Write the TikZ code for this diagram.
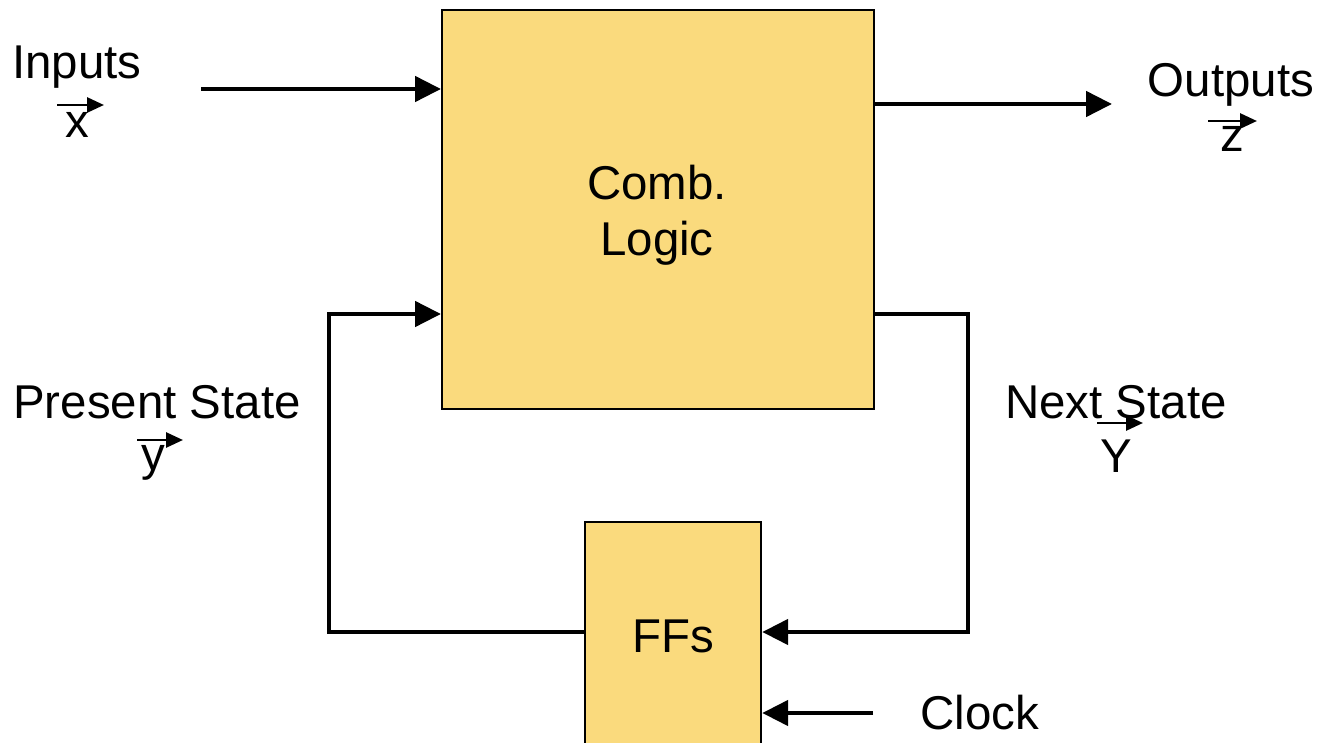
\documentclass[tikz,border=0pt]{standalone}
\usepackage{fontspec}
\setmainfont{Liberation Sans}
\usetikzlibrary{arrows.meta,calc}
\definecolor{LogicYellow}{RGB}{250,218,125}
\tikzset{
  block/.style={draw=black,fill=LogicYellow,line width=1.4pt,inner sep=0pt},
  lbl/.style={inner sep=0pt,font=\fontsize{27}{31.8}\selectfont},
  wire/.style={line width=2.7pt,-{Triangle[length=0.52cm,width=0.5cm]}},
  vec/.style={line width=1.6pt,-{Triangle[length=0.34cm,width=0.3cm]}}
}

\begin{document}
\begin{tikzpicture}[x=0.02cm,y=-0.02cm]
  \useasboundingbox (0,0) rectangle (1322,743);
  \clip (0,0) rectangle (1322,743);
  \node[block,anchor=north west,minimum width=8.64cm,minimum height=7.98cm] (comb) at (441,9) {};
  \node[block,anchor=north,minimum width=3.52cm,minimum height=5.6cm] (ffs) at (673,521) {};
  \node[lbl,align=center] (comblbl) at (657,215) {Comb.\\Logic};
  \node[lbl,anchor=base] (ffslbl) at (673,652) {FFs};

  \node[lbl,anchor=base] (inlbl) at (77,79) {Inputs};
  \node[lbl,anchor=base] (xvec) at (77,138) {x};
  \node[lbl,anchor=base] (outlbl) at (1231,97) {Outputs};
  \node[lbl,anchor=base] (zvec) at (1232,152) {z};
  \node[lbl,anchor=base] (pslbl) at (157,418) {Present State};
  \node[lbl,anchor=base] (yvec) at (153,470) {y};
  \node[lbl,anchor=base] (nslbl) at (1116,418) {Next State};
  \node[lbl,anchor=base] (Yvec) at (1116,472) {Y};
  \node[lbl,anchor=base] (clklbl) at (980,729) {Clock};

  \draw[vec] ($(xvec.base)+(-20,-33)$) -- ++(47,0);
  \draw[vec] ($(zvec.base)+(-24,-31)$) -- ++(49,0);
  \draw[vec] ($(yvec.base)+(-16,-30)$) -- ++(46,0);
  \draw[vec] ($(Yvec.base)+(-19,-49)$) -- ++(46,0);

  \coordinate (inport) at (201,89);
  \coordinate (outport) at (1112,104);
  \coordinate (clkport) at (873,713);
  \coordinate (psbend) at (329,314);
  \coordinate (nsbend) at (968,632);
  \draw[wire] (inport) -- (inport -| comb.west);
  \draw[wire] (outport -| comb.east) -- (outport);
  \draw[wire] (clkport) -- (clkport -| ffs.east);
  \draw[wire] (ffs.west |- nsbend) -| (psbend) -- (psbend -| comb.west);
  \draw[wire] (comb.east |- psbend) -| (nsbend) -- (nsbend -| ffs.east);
\end{tikzpicture}
\end{document}
